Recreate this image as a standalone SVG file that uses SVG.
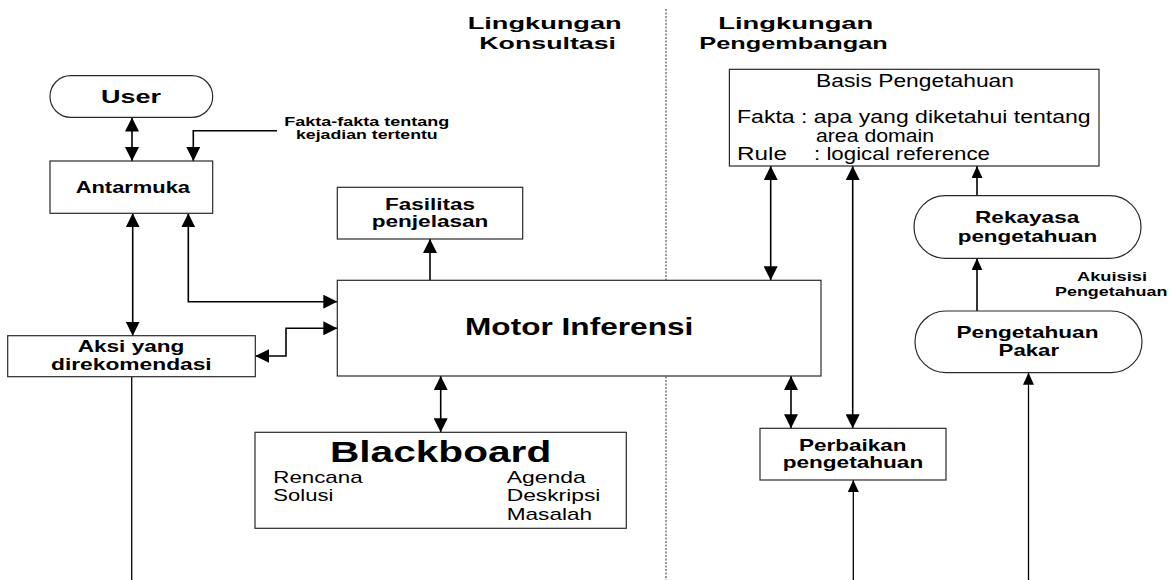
<svg xmlns="http://www.w3.org/2000/svg" width="1171" height="580" viewBox="0 0 1171 580">
  <style>
    .box { fill: #ffffff; stroke: #2a2a2a; stroke-width: 1.2; }
    .t { font-family: "Liberation Sans", Arial, sans-serif; fill: #000000; }
    .b { font-weight: bold; }
    .wire { fill: none; stroke: #000000; stroke-width: 1.6; }
    .thin { fill: none; stroke: #000000; stroke-width: 1.3; }
    .divider { fill: none; stroke: #333333; stroke-width: 1; stroke-dasharray: 2 1.5; }
  </style>
  <defs>
    <marker id="ah" markerUnits="userSpaceOnUse" markerWidth="14" markerHeight="14" viewBox="0 0 14 14" refX="14" refY="7" orient="auto-start-reverse">
      <path d="M0,0 L14,7 L0,14 Z" fill="#000000"/>
    </marker>
    <marker id="ahs" markerUnits="userSpaceOnUse" markerWidth="12" markerHeight="11" viewBox="0 0 12 11" refX="12" refY="5.5" orient="auto-start-reverse">
      <path d="M0,0 L12,5.5 L0,11 Z" fill="#000000"/>
    </marker>
  </defs>

  <rect width="1171" height="580" fill="#ffffff"/>

  <!-- environment headings and divider -->
  <g id="headings">
    <line class="divider" x1="666" y1="9" x2="666" y2="580"/>
    <text class="t b" x="467.7" y="29" font-size="17" textLength="154" lengthAdjust="spacingAndGlyphs">Lingkungan</text>
    <text class="t b" x="479.3" y="49" font-size="17" textLength="136.7" lengthAdjust="spacingAndGlyphs">Konsultasi</text>
    <text class="t b" x="718.3" y="29" font-size="17" textLength="155" lengthAdjust="spacingAndGlyphs">Lingkungan</text>
    <text class="t b" x="699.3" y="49" font-size="17" textLength="188.4" lengthAdjust="spacingAndGlyphs">Pengembangan</text>
  </g>

  <!-- connectors -->
  <g id="connectors">
    <line class="wire" x1="132" y1="117.5" x2="132" y2="161" marker-start="url(#ah)" marker-end="url(#ah)"/>
    <path class="wire" d="M277,130.7 H193.3 V161" marker-end="url(#ah)"/>
    <line class="wire" x1="132.7" y1="213.3" x2="132.7" y2="335.7" marker-start="url(#ah)" marker-end="url(#ah)"/>
    <path class="wire" d="M188.3,213.3 V301.7 H337.3" marker-start="url(#ah)" marker-end="url(#ah)"/>
    <path class="wire" d="M337.3,328.3 H286 V356 H255.3" marker-start="url(#ah)" marker-end="url(#ah)"/>
    <line class="wire" x1="430" y1="280.3" x2="430" y2="239" marker-end="url(#ah)"/>
    <line class="wire" x1="440.7" y1="376" x2="440.7" y2="432.3" marker-start="url(#ah)" marker-end="url(#ah)"/>
    <line class="wire" x1="770.7" y1="280.3" x2="770.7" y2="166" marker-start="url(#ah)" marker-end="url(#ah)"/>
    <line class="wire" x1="852.7" y1="166" x2="852.7" y2="428.3" marker-start="url(#ah)" marker-end="url(#ah)"/>
    <line class="wire" x1="791" y1="376" x2="791" y2="428.3" marker-start="url(#ah)" marker-end="url(#ah)"/>
    <line class="wire" x1="977" y1="195.7" x2="977" y2="166" marker-end="url(#ahs)"/>
    <line class="wire" x1="977" y1="311" x2="977" y2="258.3" marker-end="url(#ahs)"/>
    <line class="thin" x1="853.3" y1="580" x2="853.3" y2="480" marker-end="url(#ahs)"/>
    <line class="thin" x1="1028.5" y1="580" x2="1028.5" y2="372.7" marker-end="url(#ahs)"/>
    <line class="thin" x1="131.7" y1="376.7" x2="131.7" y2="580"/>
  </g>

  <!-- edge labels -->
  <g id="label-fakta">
    <text class="t b" x="284.3" y="126" font-size="12.5" textLength="165" lengthAdjust="spacingAndGlyphs">Fakta-fakta tentang</text>
    <text class="t b" x="296" y="138.5" font-size="12.5" textLength="141.7" lengthAdjust="spacingAndGlyphs">kejadian tertentu</text>
  </g>
  <g id="label-akuisisi">
    <text class="t b" x="1077" y="280.7" font-size="12" textLength="70" lengthAdjust="spacingAndGlyphs">Akuisisi</text>
    <text class="t b" x="1055" y="295.5" font-size="12" textLength="112.4" lengthAdjust="spacingAndGlyphs">Pengetahuan</text>
  </g>

  <g id="user">
    <rect class="box" x="50" y="75.7" width="162.7" height="41.6" rx="20.8" ry="20.8"/>
    <text class="t b" x="101" y="103" font-size="17.5" textLength="60" lengthAdjust="spacingAndGlyphs">User</text>
  </g>

  <g id="antarmuka">
    <rect class="box" x="50" y="161" width="162.7" height="52.3"/>
    <text class="t b" x="75.7" y="192.5" font-size="17" textLength="114.3" lengthAdjust="spacingAndGlyphs">Antarmuka</text>
  </g>

  <g id="fasilitas">
    <rect class="box" x="337.3" y="187.3" width="185.4" height="51.7"/>
    <text class="t b" x="385" y="209.5" font-size="16" textLength="90" lengthAdjust="spacingAndGlyphs">Fasilitas</text>
    <text class="t b" x="371.7" y="226.5" font-size="16" textLength="116.7" lengthAdjust="spacingAndGlyphs">penjelasan</text>
  </g>

  <g id="motor">
    <rect class="box" x="337.3" y="280.3" width="483.7" height="95.7"/>
    <text class="t b" x="465" y="335" font-size="23" textLength="228.3" lengthAdjust="spacingAndGlyphs">Motor Inferensi</text>
  </g>

  <g id="aksi">
    <rect class="box" x="7.7" y="335.7" width="247.6" height="41"/>
    <text class="t b" x="77.7" y="352" font-size="16" textLength="106.7" lengthAdjust="spacingAndGlyphs">Aksi yang</text>
    <text class="t b" x="51" y="369.7" font-size="16" textLength="160.7" lengthAdjust="spacingAndGlyphs">direkomendasi</text>
  </g>

  <g id="blackboard">
    <rect class="box" x="255" y="432.3" width="371.3" height="96"/>
    <text class="t b" x="330" y="461.5" font-size="29" textLength="221.2" lengthAdjust="spacingAndGlyphs">Blackboard</text>
    <text class="t" x="273.3" y="483" font-size="17" textLength="89.3" lengthAdjust="spacingAndGlyphs">Rencana</text>
    <text class="t" x="273.3" y="501" font-size="17" textLength="60" lengthAdjust="spacingAndGlyphs">Solusi</text>
    <text class="t" x="506.7" y="483" font-size="17" textLength="79" lengthAdjust="spacingAndGlyphs">Agenda</text>
    <text class="t" x="506.7" y="501" font-size="17" textLength="93.7" lengthAdjust="spacingAndGlyphs">Deskripsi</text>
    <text class="t" x="506.7" y="519.5" font-size="17" textLength="85.5" lengthAdjust="spacingAndGlyphs">Masalah</text>
  </g>

  <g id="basis">
    <rect class="box" x="729.4" y="69.3" width="369.6" height="96.7"/>
    <text class="t" x="816" y="87" font-size="17.5" textLength="198" lengthAdjust="spacingAndGlyphs">Basis Pengetahuan</text>
    <text class="t" x="737" y="122.5" font-size="17.5" textLength="353.7" lengthAdjust="spacingAndGlyphs">Fakta : apa yang diketahui tentang</text>
    <text class="t" x="816" y="141.5" font-size="17.5" textLength="118" lengthAdjust="spacingAndGlyphs">area domain</text>
    <text class="t" x="737" y="160" font-size="17.5" textLength="50" lengthAdjust="spacingAndGlyphs">Rule</text>
    <text class="t" x="814" y="160" font-size="17.5" textLength="176" lengthAdjust="spacingAndGlyphs">: logical reference</text>
  </g>

  <g id="perbaikan">
    <rect class="box" x="760" y="428.3" width="186" height="51.7"/>
    <text class="t b" x="799" y="450.5" font-size="17" textLength="107.5" lengthAdjust="spacingAndGlyphs">Perbaikan</text>
    <text class="t b" x="782.7" y="467.5" font-size="17" textLength="140.5" lengthAdjust="spacingAndGlyphs">pengetahuan</text>
  </g>

  <g id="rekayasa">
    <rect class="box" x="914" y="195.7" width="227" height="62.6" rx="31.3" ry="31.3"/>
    <text class="t b" x="975" y="223" font-size="16.5" textLength="104.3" lengthAdjust="spacingAndGlyphs">Rekayasa</text>
    <text class="t b" x="957.7" y="241.5" font-size="16.5" textLength="139.6" lengthAdjust="spacingAndGlyphs">pengetahuan</text>
  </g>

  <g id="pakar">
    <rect class="box" x="915" y="311" width="227" height="61.7" rx="30.8" ry="30.8"/>
    <text class="t b" x="956.5" y="338" font-size="16.5" textLength="142" lengthAdjust="spacingAndGlyphs">Pengetahuan</text>
    <text class="t b" x="998.6" y="356" font-size="16.5" textLength="60.5" lengthAdjust="spacingAndGlyphs">Pakar</text>
  </g>
</svg>
